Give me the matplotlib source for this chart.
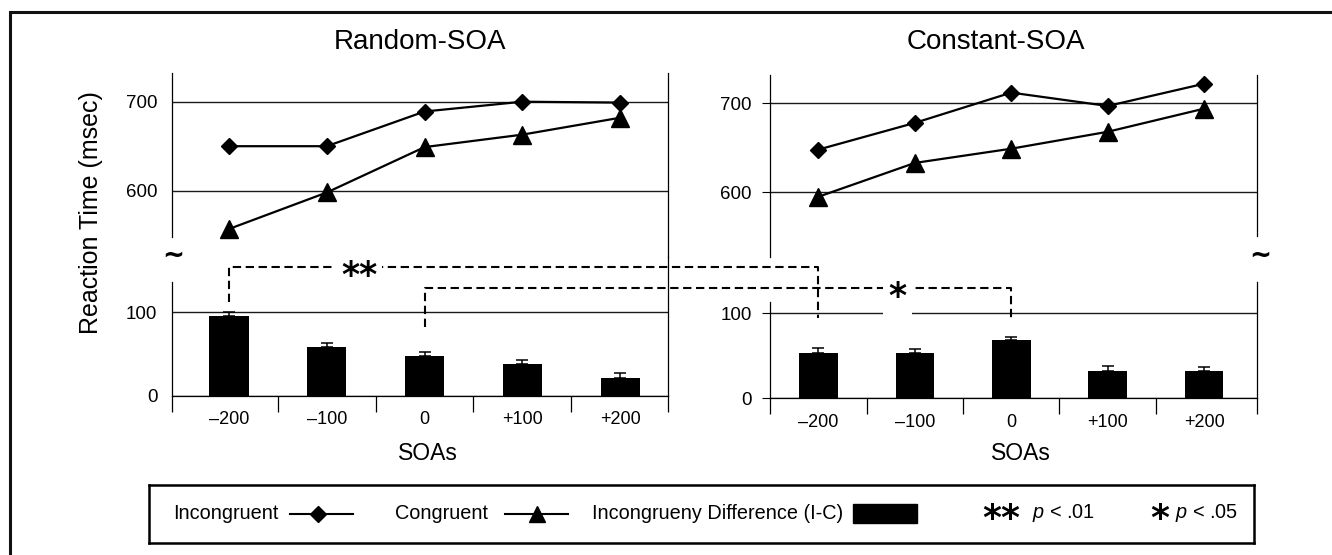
import matplotlib
matplotlib.use("Agg")
import matplotlib.pyplot as plt
from matplotlib.lines import Line2D
from matplotlib.patches import Rectangle
import numpy as np

# ---------------- data ----------------
soa_labels = ["\u2013200", "\u2013100", "0", "+100", "+200"]
panel_titles = ["Random-SOA", "Constant-SOA"]
random_incongruent = [650, 650, 689, 700, 699]
random_congruent = [557, 598, 649, 663, 682]
constant_incongruent = [648, 678, 712, 697, 722]
constant_congruent = [595, 633, 649, 668, 694]
random_diff = [95, 59, 48, 38, 21]
random_diff_err = [5, 4, 5, 4.5, 6]
constant_diff = [53, 53, 69, 32, 32]
constant_diff_err = [6, 5, 3.5, 5.5, 4.5]
top_ticks = [600, 700]
bottom_ticks = [0, 100]

W, H = 1332, 555
plt.rcParams['font.family'] = ['Liberation Sans', 'DejaVu Sans']
plt.rcParams['mathtext.fontset'] = 'custom'
plt.rcParams['mathtext.it'] = 'Liberation Sans:italic'
plt.rcParams['mathtext.rm'] = 'Liberation Sans'
fig = plt.figure(figsize=(W / 100, H / 100), dpi=100)


def rect(x0, y0, x1, y1):
    return [x0 / W, 1 - y1 / H, (x1 - x0) / W, (y1 - y0) / H]


x = np.arange(len(soa_labels))
GRID = '#1a1a1a'


def make_panel(x0, x1, xlim, top_px, top_ylim, top_bounds, bot_px, bot_ylim,
               bot_bounds, incong, cong, diff, err, ytick_len, ypad):
    # ---- top (line) axes ----
    axt = fig.add_axes(rect(x0, top_px[0], x1, top_px[1]))
    axt.patch.set_visible(False)
    axt.set_xlim(xlim)
    axt.set_ylim(top_ylim)
    for s in ['top', 'bottom']:
        axt.spines[s].set_visible(False)
    for s, b in top_bounds.items():
        axt.spines[s].set_bounds(*b)
    for s in ['left', 'right']:
        axt.spines[s].set_linewidth(0.9)
    axt.set_xticks([])
    axt.set_yticks(top_ticks)
    axt.set_yticklabels([str(t) for t in top_ticks], fontsize=13.5)
    axt.tick_params(axis='y', length=ytick_len, width=0.8, pad=ypad)
    axt.grid(axis='y', color=GRID, lw=1.0)
    axt.set_axisbelow(True)
    axt.plot(x, incong, color='black', lw=1.6, marker='D', ms=8.5, zorder=3,
             clip_on=False)
    axt.plot(x, cong, color='black', lw=1.6, marker='^', ms=13, zorder=3,
             clip_on=False)

    # ---- bottom (bar) axes ----
    axb = fig.add_axes(rect(x0, bot_px[0], x1, bot_px[1]))
    axb.patch.set_visible(False)
    axb.set_xlim(xlim)
    axb.set_ylim(bot_ylim)
    axb.spines['top'].set_visible(False)
    for s, b in bot_bounds.items():
        axb.spines[s].set_bounds(*b)
    for s in ['left', 'right', 'bottom']:
        axb.spines[s].set_linewidth(0.9)
    axb.bar(x, diff, width=0.4, color='black', zorder=3,
            yerr=[np.zeros(len(err)), err], capsize=4.5,
            error_kw=dict(elinewidth=1.1, capthick=1.1, ecolor='black'))
    axb.set_yticks(bottom_ticks)
    axb.set_yticklabels([str(t) for t in bottom_ticks], fontsize=13.5)
    axb.tick_params(axis='y', length=ytick_len, width=0.8, pad=ypad)
    axb.grid(axis='y', color=GRID, lw=1.0)
    axb.set_axisbelow(True)
    axb.set_xticks(x)
    axb.set_xticklabels(soa_labels, fontsize=13)
    bounds = [xlim[0]] + list(x[:-1] + 0.5) + [xlim[1]]
    axb.set_xticks(bounds, minor=True)
    axb.tick_params(axis='x', which='major', length=0, pad=11.0)
    axb.tick_params(axis='x', which='minor', length=11.5, width=0.9)
    return axt, axb


axt_L, axb_L = make_panel(
    171.7, 667.7, (-0.586, 4.486),
    (72.7, 257), (525.5, 732.6), {'left': (547.6, 732.6)},
    (257, 396), (0, 166.1), {'left': (0, 136.6)},
    random_incongruent, random_congruent, random_diff, random_diff_err,
    ytick_len=0, ypad=10.4)

axt_R, axb_R = make_panel(
    770, 1256.7, (-0.502, 4.545),
    (75, 257), (527.3, 731.8), {'right': (550.9, 731.8)},
    (257, 398.3), (0, 166.2), {'left': (0, 113.6), 'right': (0, 137.2)},
    constant_incongruent, constant_congruent, constant_diff, constant_diff_err,
    ytick_len=6, ypad=7.2)

# ---------------- titles / labels ----------------
fig.text(420 / W, 1 - 42 / H, panel_titles[0], fontsize=20, ha='center', va='center')
fig.text(996 / W, 1 - 42 / H, panel_titles[1], fontsize=20, ha='center', va='center')
fig.text(91 / W, 1 - 213 / H, "Reaction Time (msec)", fontsize=18, rotation=90,
         ha='center', va='center')
fig.text(428 / W, 1 - 453 / H, "SOAs", fontsize=16.5, ha='center', va='center')
fig.text(1021 / W, 1 - 453 / H, "SOAs", fontsize=16.5, ha='center', va='center')
for tx in (173, 1260):
    fig.text(tx / W, 1 - 256 / H, "~", fontsize=19, fontweight='bold',
             family='DejaVu Sans', ha='center', va='center')

# ---------------- significance brackets ----------------
to_fig = fig.transFigure.inverted()


def fig_xy(ax, xd, yd):
    return to_fig.transform(ax.transData.transform((xd, yd)))


sig_brackets = [
    dict(ix=0, level=154, left_end=112, right_end=94.5, label='**', lab_ax='L', lab_x=1.33),
    dict(ix=2, level=129, left_end=82, right_end=94.5, label='*', lab_ax='R', lab_x=0.82),
]
for br in sig_brackets:
    p_top_l = fig_xy(axb_L, br['ix'], br['level'])
    p_bot_l = fig_xy(axb_L, br['ix'], br['left_end'])
    p_top_r = fig_xy(axb_R, br['ix'], 0)
    p_top_r[1] = p_top_l[1]
    p_bot_r = fig_xy(axb_R, br['ix'], br['right_end'])
    xs = [p_bot_l[0], p_top_l[0], p_top_r[0], p_bot_r[0]]
    ys = [p_bot_l[1], p_top_l[1], p_top_r[1], p_bot_r[1]]
    fig.add_artist(Line2D(xs, ys, transform=fig.transFigure, color='black',
                          lw=1.5, ls=(0, (4, 2.2)), zorder=5))
    lab_ax = axb_L if br['lab_ax'] == 'L' else axb_R
    lx = fig_xy(lab_ax, br['lab_x'], 0)[0]
    fig.text(lx, p_top_l[1] - 19 / H, br['label'], fontsize=25, fontweight='bold',
             family='DejaVu Sans', ha='center', va='baseline', zorder=6,
             bbox=dict(boxstyle='square,pad=0.15', fc='white', ec='none'))

# ---------------- outer frame ----------------
fig.add_artist(Rectangle((10 / W, -0.2), 1.3, 1 - 12 / H + 0.2, transform=fig.transFigure,
                         fill=False, lw=2.2, ec='#111111', clip_on=False))

# ---------------- legend ----------------
lx0, ly0, lx1, ly1 = 149, 485, 1254, 542.7
axl = fig.add_axes(rect(lx0, ly0, lx1, ly1))
axl.set_xlim(lx0, lx1)
axl.set_ylim(ly1, ly0)
axl.set_xticks([])
axl.set_yticks([])
for s in axl.spines.values():
    s.set_linewidth(1.8)
yc = 513.5
axl.text(173.5, yc, "Incongruent", fontsize=14.3, ha='left', va='center')
axl.plot([290, 353], [yc, yc], color='black', lw=1.5)
axl.plot([318], [yc], color='black', marker='D', ms=8)
axl.text(395, yc, "Congruent", fontsize=14.3, ha='left', va='center')
axl.plot([505, 568], [yc, yc], color='black', lw=1.5)
axl.plot([537], [yc], color='black', marker='^', ms=12)
axl.text(591.6, yc, "Incongrueny Difference (I-C)", fontsize=14.3, ha='left', va='center')
axl.add_patch(Rectangle((852.5, 504), 64.5, 19, color='black'))
axl.text(1001, yc + 15, "**", fontsize=26, fontweight='bold', family='DejaVu Sans',
         ha='center', va='baseline')
axl.text(1031.5, yc, r"$p$ < .01", fontsize=14.3, ha='left', va='center')
axl.text(1160, yc + 15, "*", fontsize=26, fontweight='bold', family='DejaVu Sans',
         ha='center', va='baseline')
axl.text(1175, yc, r"$p$ < .05", fontsize=14.3, ha='left', va='center')

fig.savefig("out.png", dpi=100)
